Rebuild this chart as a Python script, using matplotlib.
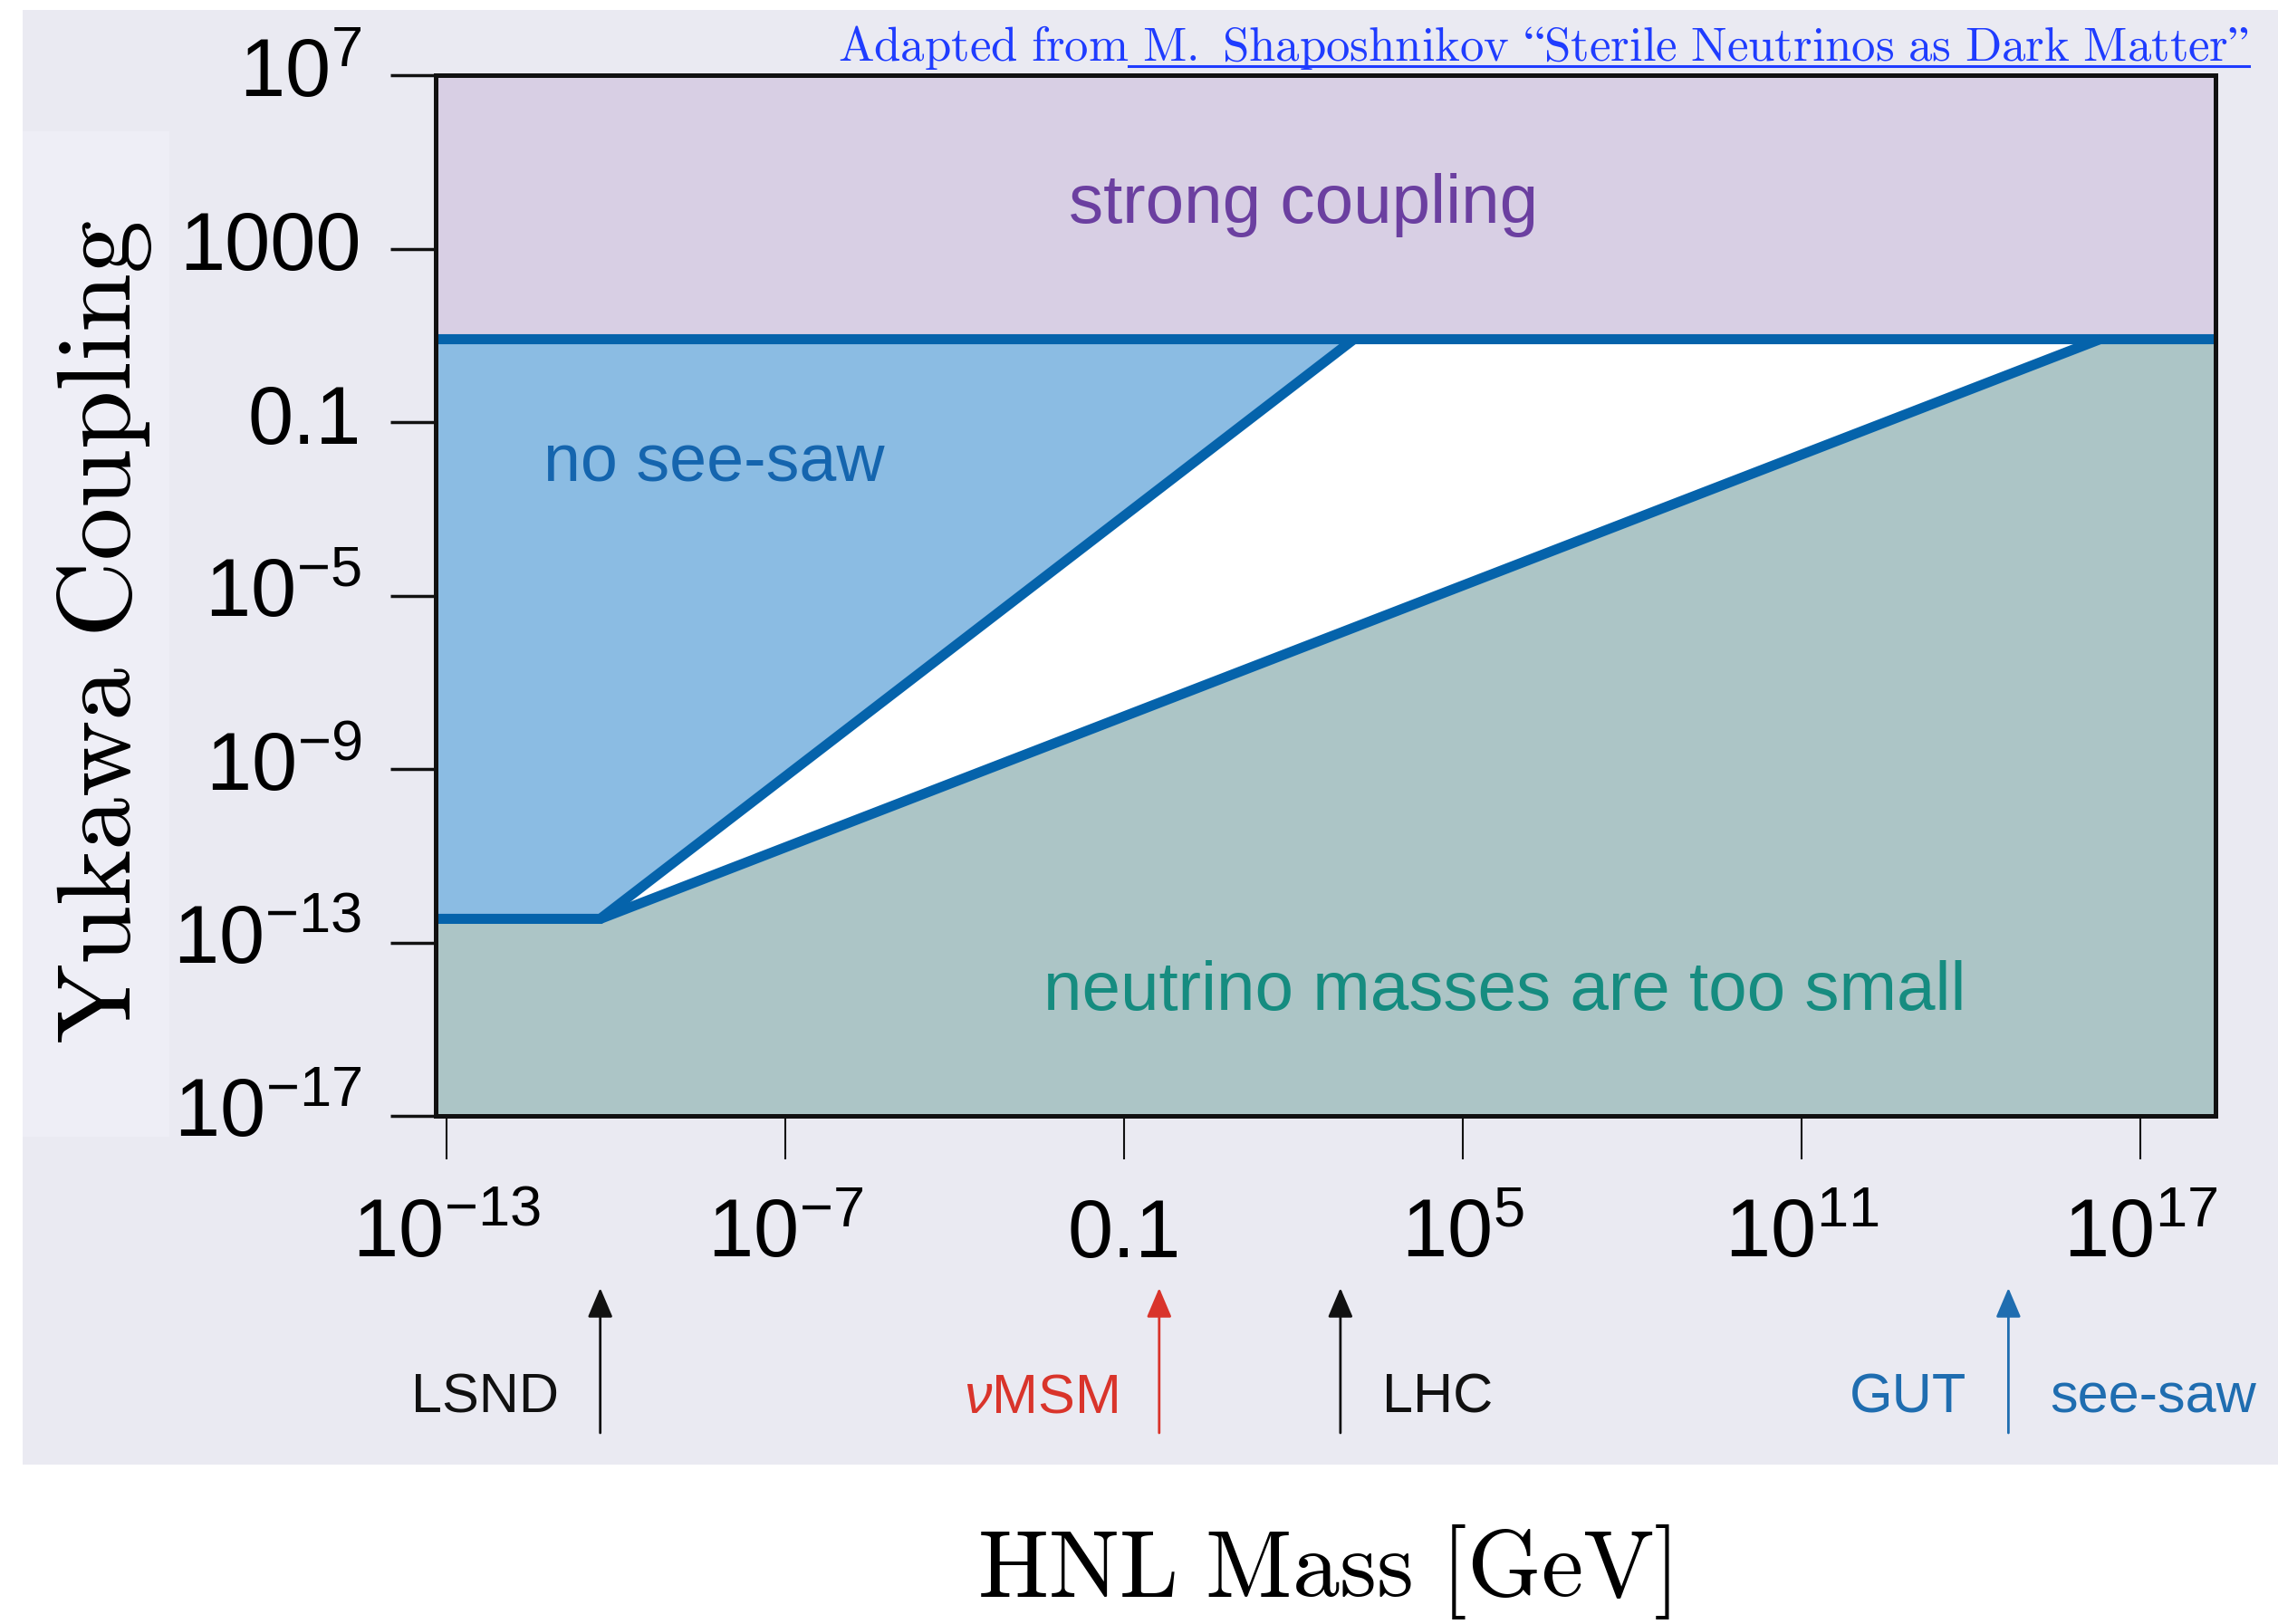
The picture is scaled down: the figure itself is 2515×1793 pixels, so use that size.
import numpy as np
import matplotlib.pyplot as plt
import matplotlib.transforms as mtransforms
from matplotlib.lines import Line2D
from matplotlib.patches import Rectangle
from matplotlib import font_manager

plt.rcParams['font.family'] = ['Liberation Sans', 'DejaVu Sans']
plt.rcParams['mathtext.fontset'] = 'custom'
plt.rcParams['mathtext.rm'] = 'Liberation Sans'
plt.rcParams['mathtext.it'] = 'Liberation Sans:italic'
plt.rcParams['mathtext.bf'] = 'Liberation Sans:bold'

# --- values (mass in GeV, dimensionless Yukawa) ---
mass_range = [10**-13.19, 10**18.33]
yukawa_range = [1e-17, 1e7]
strong_coupling_y = 8.3
lsnd_floor_y = 3.5e-13
knee_mass = 5.3e-11
no_seesaw_end_mass = 1.2e3
small_mass_end_mass = 2.0e16

xticks = [1e-13, 1e-7, 0.1, 1e5, 1e11, 1e17]
xtick_labels = [r'$10^{-13}$', r'$10^{-7}$', '0.1', r'$10^{5}$', r'$10^{11}$', r'$10^{17}$']
yticks = [1e7, 1000, 0.1, 1e-5, 1e-9, 1e-13, 1e-17]
ytick_labels = [r'$10^{7}$', '1000', '0.1', r'$10^{-5}$', r'$10^{-9}$', r'$10^{-13}$', r'$10^{-17}$']

arrow_mass = [5.3e-11, 0.42, 680, 4.6e14]
arrow_left = ['LSND', r'$\nu$MSM', '', 'GUT']
arrow_right = ['', '', 'LHC', 'see-saw']
arrow_colors = ['#111111', '#d9342b', '#111111', '#1f6db0']

line_blue = '#0563ab'
link_blue = '#1f3cff'

narrow_ok = any(f.name == 'Liberation Sans Narrow' for f in font_manager.fontManager.ttflist)
label_font = ['Liberation Sans Narrow', 'DejaVu Sans'] if narrow_ok else ['Liberation Sans', 'DejaVu Sans']
label_size = 50 if narrow_ok else 44


def cm(s):
    # computer modern look for the axis labels / credit line
    return r'$\mathrm{' + s.replace(' ', r'\ ') + '}$'


W, H = 2515, 1793
fig = plt.figure(figsize=(W / 100, H / 100), dpi=100)


def px_box(x0, y0, x1, y1):
    return [x0 / W, 1 - y1 / H, (x1 - x0) / W, (y1 - y0) / H]


# lavender panel behind everything
bg = fig.add_axes(px_box(25, 11, W, 1617))
bg.set_facecolor('#eaeaf2')
bg.set_xticks([])
bg.set_yticks([])
for s in bg.spines.values():
    s.set_visible(False)
bg.add_patch(Rectangle((25 / W, 1 - 1255 / H), 162 / W, 1110 / H, transform=fig.transFigure,
                       color='#eeeef6', lw=0))

ax = fig.add_axes(px_box(481, 83, 2446, 1232))
ax.set_xscale('log')
ax.set_yscale('log')
ax.set_facecolor('white')

# regions
ax.axhspan(strong_coupling_y, yukawa_range[1], color='#d8cfe4', lw=0, zorder=1)
ax.fill([mass_range[0], no_seesaw_end_mass, knee_mass, mass_range[0]],
        [strong_coupling_y, strong_coupling_y, lsnd_floor_y, lsnd_floor_y],
        color='#8bbce3', lw=0, zorder=1)
ax.fill([mass_range[0], knee_mass, small_mass_end_mass, mass_range[1], mass_range[1], mass_range[0]],
        [lsnd_floor_y, lsnd_floor_y, strong_coupling_y, strong_coupling_y, yukawa_range[0], yukawa_range[0]],
        color='#acc5c6', lw=0, zorder=1)

# boundaries
line_kw = dict(color=line_blue, lw=8, solid_joinstyle='miter', solid_capstyle='butt', zorder=3)
ax.plot(mass_range, [strong_coupling_y, strong_coupling_y], **line_kw)
ax.plot([mass_range[0], knee_mass, no_seesaw_end_mass],
        [lsnd_floor_y, lsnd_floor_y, strong_coupling_y], **line_kw)
ax.plot([knee_mass, small_mass_end_mass], [lsnd_floor_y, strong_coupling_y], **line_kw)

ax.set_xlim(mass_range)
ax.set_ylim(yukawa_range)

for s in ax.spines.values():
    s.set_linewidth(3.6)
    s.set_color('#111111')
    s.set_zorder(4)

ax.set_xticks(xticks, xtick_labels)
ax.set_yticks(yticks, ytick_labels)
ax.minorticks_off()
ax.tick_params(axis='x', direction='out', length=34.5, width=1.5, pad=78, labelsize=65, color='#111111')
ax.tick_params(axis='y', direction='out', length=36, width=2.5, pad=23, labelsize=65, color='#111111')
for t in ax.get_xticklabels():
    t.set_verticalalignment('baseline')
for t in ax.get_yticklabels():
    t.set_verticalalignment('center')

# region names
ax.text(150, 3.9e3, 'strong coupling', ha='center', va='baseline', fontsize=55, color='#6b3fa0')
ax.text(5.5e-9, 4.2e-3, 'no see-saw', ha='center', va='baseline', fontsize=53, color='#1565ae')
ax.text(5.6e5, 2.8e-15, 'neutrino masses are too small', ha='center', va='baseline', fontsize=55,
        color='#168c80')

# experiment / scale arrows under the axis
trans = ax.get_xaxis_transform()
tip_y, tail_y, text_y = (1232 - 1422) / 1149, (1232 - 1582) / 1149, (1232 - 1560) / 1149
left_tr = mtransforms.offset_copy(trans, fig=fig, x=-33, y=0, units='points')
right_tr = mtransforms.offset_copy(trans, fig=fig, x=33, y=0, units='points')
for m, lt, rt, c in zip(arrow_mass, arrow_left, arrow_right, arrow_colors):
    ax.annotate('', xy=(m, tip_y), xytext=(m, tail_y), xycoords=trans, textcoords=trans,
                annotation_clip=False,
                arrowprops=dict(arrowstyle='-|>,head_length=0.4,head_width=0.17', mutation_scale=50,
                                lw=2, color=c, shrinkA=0, shrinkB=0))
    if lt:
        ax.text(m, text_y, lt, transform=left_tr, ha='right', va='baseline', color=c,
                fontsize=label_size, family=label_font, clip_on=False)
    if rt:
        ax.text(m, text_y, rt, transform=right_tr, ha='left', va='baseline', color=c,
                fontsize=label_size, family=label_font, clip_on=False)

# axis labels
fig.text(116 / W, 1 - 698 / H, cm('Yukawa Coupling'), rotation=90, ha='center', va='center',
         fontsize=84, math_fontfamily='cm')
fig.text(1462 / W, 1 - 1762 / H, cm('HNL Mass [GeV]'), ha='center', va='baseline',
         fontsize=75, math_fontfamily='cm')

# credit line with underlined link part
link = fig.text(2483 / W, 1 - 67 / H, cm(' M. Shaposhnikov “Sterile Neutrinos as Dark Matter”'),
                ha='right', va='baseline', fontsize=38, color=link_blue, math_fontfamily='cm')
renderer = fig.canvas.get_renderer()
bb = link.get_window_extent(renderer)
fig.text(bb.x0 / W, 1 - 67 / H, cm('Adapted from'), ha='right', va='baseline', fontsize=38,
         color=link_blue, math_fontfamily='cm')
fig.add_artist(Line2D([bb.x0 / W, bb.x1 / W], [1 - 73 / H, 1 - 73 / H], color=link_blue, lw=2.2))

fig.savefig('out.png', dpi=100)
